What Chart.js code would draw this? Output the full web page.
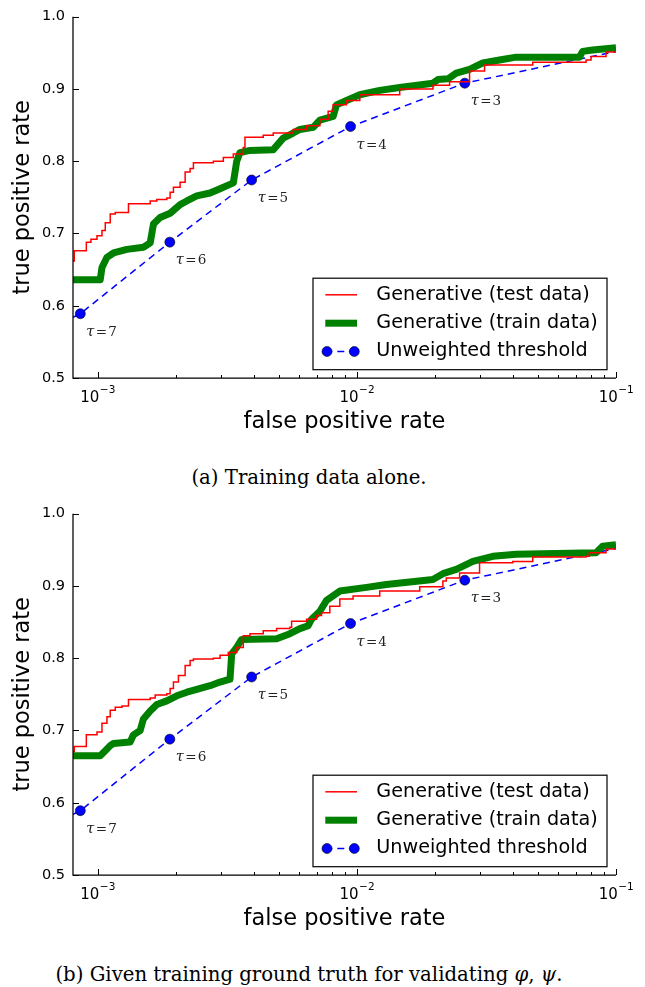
<!DOCTYPE html>
<html>
<head>
<meta charset="utf-8">
<script src="https://cdn.jsdelivr.net/npm/chart.js@4.4.1/dist/chart.umd.min.js"></script>
<style>
  html, body { margin: 0; padding: 0; background: #fff; }
  body { width: 645px; height: 987px; position: relative; overflow: hidden; }
  .panel { position: absolute; left: 0; width: 645px; height: 440px; }
  .caption { position: absolute; left: 0; width: 618px; text-align: center; font-family: "DejaVu Serif", serif; font-size: 19.7px; line-height: 1; color: #000; white-space: nowrap; }
</style>
</head>
<body>
<div class="panel" style="top:0px"><canvas id="chartA" width="645" height="440"></canvas></div>
<div class="caption" style="top:468px">(a) Training data alone.</div>
<div class="panel" style="top:497px"><canvas id="chartB" width="645" height="440"></canvas></div>
<div class="caption" style="top:965px">(b) Given training ground truth for validating <i>φ</i>, <i>ψ</i>.</div>

<script>
// axis ranges and ticks
const fprLimits = [8.04e-4, 0.1];
const tprLimits = [0.5, 1.0];
const tprTicks = [0.5, 0.6, 0.7, 0.8, 0.9, 1.0];
const fprMajorTicks = [1e-3, 1e-2, 1e-1];
const fprMinorTicks = [2e-3, 3e-3, 4e-3, 5e-3, 6e-3, 7e-3, 8e-3, 9e-3,
                       2e-2, 3e-2, 4e-2, 5e-2, 6e-2, 7e-2, 8e-2, 9e-2];

const seriesLabels = ['Generative (test data)', 'Generative (train data)', 'Unweighted threshold'];

// unweighted threshold (same in both panels); null tau = line end at the axis edge
const thresholdFpr = [8.04e-4, 8.58e-4, 1.90e-3, 3.93e-3, 9.46e-3, 2.61e-2, 0.1];
const thresholdTpr = [0.584, 0.589, 0.688, 0.774, 0.848, 0.908, 0.952];
const thresholdTau = [null, 7, 6, 5, 4, 3, null];

// (a) training data alone
const testFprA = [8.04e-4, 8.13e-4, 9.05e-4, 9.43e-4, 9.95e-4, 1.040e-3, 1.071e-3, 1.119e-3, 1.170e-3, 1.316e-3,
  1.596e-3, 1.693e-3, 1.850e-3, 1.905e-3, 1.962e-3, 2.082e-3, 2.177e-3, 2.275e-3, 2.343e-3, 2.797e-3,
  3.056e-3, 3.340e-3, 3.649e-3, 3.704e-3, 4.356e-3, 4.762e-3, 5.684e-3, 6.401e-3, 7.204e-3, 7.755e-3,
  8.104e-3, 9.127e-3, 1.027e-2, 1.464e-2, 1.967e-2, 2.281e-2, 2.723e-2, 3.111e-2, 4.773e-2, 7.665e-2,
  8.012e-2, 9.153e-2, 0.1];
const testTprA = [0.662, 0.676, 0.688, 0.692, 0.697, 0.704, 0.715, 0.727, 0.729, 0.741,
  0.745, 0.747, 0.749, 0.757, 0.764, 0.771, 0.785, 0.790, 0.798, 0.800,
  0.805, 0.810, 0.819, 0.833, 0.836, 0.839, 0.844, 0.849, 0.858, 0.869,
  0.878, 0.884, 0.892, 0.900, 0.905, 0.910, 0.925, 0.933, 0.937, 0.940,
  0.945, 0.951, 0.954];
const trainFprA = [8.04e-4, 1.024e-3, 1.040e-3, 1.087e-3, 1.152e-3, 1.298e-3, 1.503e-3, 1.596e-3, 1.643e-3, 1.743e-3,
  1.905e-3, 2.082e-3, 2.210e-3, 2.414e-3, 2.716e-3, 2.968e-3, 3.340e-3, 3.442e-3, 3.543e-3, 3.873e-3,
  4.762e-3, 5.203e-3, 5.684e-3, 6.032e-3, 6.788e-3, 7.204e-3, 8.104e-3, 8.352e-3, 9.127e-3, 1.027e-2,
  1.226e-2, 1.464e-2, 1.967e-2, 2.056e-2, 2.247e-2, 2.420e-2, 2.723e-2, 3.064e-2, 3.553e-2, 4.120e-2,
  7.222e-2, 7.437e-2, 8.127e-2, 0.1];
const trainTprA = [0.636, 0.636, 0.653, 0.667, 0.673, 0.678, 0.681, 0.687, 0.713, 0.722,
  0.728, 0.740, 0.745, 0.752, 0.756, 0.762, 0.770, 0.800, 0.812, 0.815,
  0.816, 0.832, 0.839, 0.844, 0.847, 0.857, 0.862, 0.878, 0.884, 0.892,
  0.898, 0.902, 0.908, 0.913, 0.914, 0.922, 0.927, 0.936, 0.940, 0.944,
  0.944, 0.952, 0.954, 0.957];

// (b) given training ground truth
const testFprB = [8.04e-4, 8.13e-4, 9.05e-4, 9.95e-4, 1.040e-3, 1.087e-3, 1.119e-3, 1.170e-3, 1.242e-3, 1.316e-3,
  1.596e-3, 1.668e-3, 1.850e-3, 1.905e-3, 1.962e-3, 2.051e-3, 2.177e-3, 2.275e-3, 2.343e-3, 2.797e-3,
  2.968e-3, 3.194e-3, 3.442e-3, 3.649e-3, 3.873e-3, 4.356e-3, 4.907e-3, 5.521e-3, 5.605e-3, 6.401e-3,
  6.995e-3, 7.312e-3, 7.870e-3, 8.603e-3, 9.678e-3, 1.226e-2, 1.749e-2, 2.149e-2, 2.215e-2, 2.492e-2,
  2.976e-2, 3.998e-2, 4.773e-2, 7.665e-2, 7.892e-2, 9.153e-2, 0.1];
const testTprB = [0.671, 0.678, 0.694, 0.698, 0.710, 0.719, 0.728, 0.732, 0.734, 0.743,
  0.745, 0.749, 0.751, 0.758, 0.767, 0.776, 0.790, 0.797, 0.799, 0.800,
  0.804, 0.808, 0.815, 0.831, 0.834, 0.838, 0.841, 0.843, 0.851, 0.854,
  0.859, 0.863, 0.872, 0.882, 0.886, 0.893, 0.899, 0.907, 0.911, 0.918,
  0.932, 0.934, 0.940, 0.941, 0.946, 0.951, 0.955];
const trainFprB = [8.04e-4, 1.024e-3, 1.071e-3, 1.119e-3, 1.152e-3, 1.336e-3, 1.376e-3, 1.460e-3, 1.503e-3, 1.596e-3,
  1.693e-3, 1.850e-3, 2.022e-3, 2.210e-3, 2.414e-3, 2.716e-3, 2.968e-3, 3.243e-3, 3.292e-3, 3.442e-3,
  3.597e-3, 4.907e-3, 5.521e-3, 6.032e-3, 6.494e-3, 6.693e-3, 7.204e-3, 7.643e-3, 8.603e-3, 1.090e-2,
  1.301e-2, 1.967e-2, 2.149e-2, 2.420e-2, 2.804e-2, 3.348e-2, 4.120e-2, 8.375e-2, 8.879e-2, 0.1];
const trainTprB = [0.665, 0.665, 0.672, 0.679, 0.682, 0.684, 0.694, 0.700, 0.716, 0.727,
  0.736, 0.741, 0.748, 0.753, 0.757, 0.762, 0.767, 0.771, 0.806, 0.815,
  0.826, 0.827, 0.834, 0.841, 0.845, 0.854, 0.865, 0.880, 0.893, 0.898,
  0.902, 0.909, 0.917, 0.923, 0.934, 0.941, 0.944, 0.946, 0.955, 0.957];

function toPoints(xs, ys) {
  return xs.map((v, i) => ({ x: v, y: ys[i] }));
}

// matplotlib-style spines, inward ticks and 10^n tick labels
const axesPlugin = {
  id: 'mplAxes',
  afterDatasetsDraw(chart) {
    const { ctx, chartArea: a, scales: { x, y } } = chart;
    ctx.save();
    ctx.strokeStyle = '#000';
    ctx.lineWidth = 1.25;
    ctx.beginPath();
    ctx.moveTo(a.left, a.top);
    ctx.lineTo(a.left, a.bottom);
    ctx.lineTo(a.right, a.bottom);
    ctx.stroke();

    ctx.lineWidth = 1;
    ctx.beginPath();
    tprTicks.forEach(v => {
      const py = Math.round(y.getPixelForValue(v)) + 0.5;
      ctx.moveTo(a.left, py);
      ctx.lineTo(a.left + 6, py);
    });
    fprMajorTicks.forEach(v => {
      const px = Math.round(x.getPixelForValue(v)) + 0.5;
      ctx.moveTo(px, a.bottom);
      ctx.lineTo(px, a.bottom - 6);
    });
    fprMinorTicks.forEach(v => {
      const px = Math.round(x.getPixelForValue(v)) + 0.5;
      ctx.moveTo(px, a.bottom);
      ctx.lineTo(px, a.bottom - 3);
    });
    ctx.stroke();

    // x tick labels as 10 with a raised exponent
    ctx.fillStyle = '#000';
    ctx.textAlign = 'left';
    ctx.textBaseline = 'alphabetic';
    const base = a.bottom + 23.7;
    fprMajorTicks.forEach(v => {
      const px = x.getPixelForValue(v);
      const exp = '\u2212' + String(Math.abs(Math.round(Math.log10(v))));
      ctx.font = '15px "DejaVu Sans"';
      const w1 = ctx.measureText('10').width;
      ctx.font = '10.5px "DejaVu Sans"';
      const w2 = ctx.measureText(exp).width;
      const start = px - (w1 + w2) / 2;
      ctx.font = '15px "DejaVu Sans"';
      ctx.fillText('10', start, base);
      ctx.font = '10.5px "DejaVu Sans"';
      ctx.fillText(exp, start + w1 + 0.5, base - 9);
    });
    ctx.restore();
  }
};

// tau annotations next to the threshold markers
const tauPlugin = {
  id: 'tauLabels',
  afterDatasetsDraw(chart) {
    const ctx = chart.ctx;
    const meta = chart.getDatasetMeta(2);
    ctx.save();
    ctx.fillStyle = '#222';
    ctx.textBaseline = 'alphabetic';
    ctx.textAlign = 'left';
    meta.data.forEach((pt, i) => {
      const tau = thresholdTau[i];
      if (tau === null) return;
      let px = pt.x + 6;
      const py = pt.y + 22;
      ctx.font = 'italic 14.5px "DejaVu Serif"';
      ctx.fillText('\u03C4', px, py);
      px += ctx.measureText('\u03C4').width + 1.5;
      ctx.font = '13.5px "DejaVu Serif"';
      ctx.fillText('=', px, py);
      px += ctx.measureText('=').width + 1;
      ctx.fillText(String(tau), px, py);
    });
    ctx.restore();
  }
};

// legend box in the lower right of the axes
const legendPlugin = {
  id: 'boxLegend',
  afterDraw(chart) {
    const { ctx, chartArea: a } = chart;
    const left = a.left + 240, right = a.right - 9;
    const top = a.top + 261.5, bottom = a.top + 353;
    const rows = [16.6, 45, 73.3];
    ctx.save();
    ctx.fillStyle = '#fff';
    ctx.fillRect(left, top, right - left, bottom - top);
    ctx.strokeStyle = '#000';
    ctx.lineWidth = 1.2;
    ctx.strokeRect(left, top, right - left, bottom - top);

    chart.data.datasets.forEach((ds, i) => {
      const cy = top + rows[i];
      const x0 = left + 12.3, x1 = left + 44;
      ctx.strokeStyle = ds.borderColor;
      ctx.lineWidth = ds.borderWidth;
      ctx.setLineDash(ds.borderDash || []);
      ctx.beginPath();
      ctx.moveTo(x0, cy);
      ctx.lineTo(x1, cy);
      ctx.stroke();
      ctx.setLineDash([]);
      if (i === 2) {
        [x0 + 1.7, x1 - 2.7].forEach(mx => {
          ctx.beginPath();
          ctx.arc(mx, cy, 5, 0, Math.PI * 2);
          ctx.fillStyle = ds.pointBackgroundColor;
          ctx.fill();
          ctx.lineWidth = ds.pointBorderWidth;
          ctx.strokeStyle = ds.pointBorderColor;
          ctx.stroke();
        });
      }
      ctx.fillStyle = '#000';
      ctx.font = '19.2px "DejaVu Sans"';
      ctx.textBaseline = 'middle';
      ctx.textAlign = 'left';
      ctx.fillText(ds.label, left + 63.3, cy);
    });
    ctx.restore();
  }
};

function makeChart(id, testFpr, testTpr, trainFpr, trainTpr) {
  return new Chart(document.getElementById(id), {
    type: 'line',
    data: {
      datasets: [
        {
          label: seriesLabels[0],
          data: toPoints(testFpr, testTpr),
          borderColor: '#ff0000',
          borderWidth: 1.5,
          stepped: 'before',
          pointRadius: 0,
          fill: false
        },
        {
          label: seriesLabels[1],
          data: toPoints(trainFpr, trainTpr),
          borderColor: '#008000',
          borderWidth: 7,
          borderJoinStyle: 'round',
          borderCapStyle: 'butt',
          pointRadius: 0,
          fill: false
        },
        {
          label: seriesLabels[2],
          data: toPoints(thresholdFpr, thresholdTpr),
          borderColor: '#0000ff',
          borderWidth: 1.5,
          borderDash: [7, 5],
          pointRadius: thresholdTau.map(t => (t === null ? 0 : 5)),
          pointBackgroundColor: '#0000ff',
          pointBorderColor: '#000',
          pointBorderWidth: 0.6,
          fill: false
        }
      ]
    },
    options: {
      responsive: false,
      animation: false,
      events: [],
      layout: { padding: { top: 15, right: 29, left: 0, bottom: 0 } },
      plugins: { legend: { display: false }, tooltip: { enabled: false } },
      scales: {
        x: {
          type: 'logarithmic',
          min: fprLimits[0],
          max: fprLimits[1],
          grid: { display: false, drawTicks: false },
          border: { display: false },
          afterBuildTicks: s => { s.ticks = fprMajorTicks.map(v => ({ value: v })); },
          afterFit: s => { s.height = 62; },
          ticks: { display: false },
          title: {
            display: true,
            text: 'false positive rate',
            color: '#000',
            font: { family: 'DejaVu Sans', size: 22.5, lineHeight: 1 },
            padding: { top: 0, bottom: 7 }
          }
        },
        y: {
          min: tprLimits[0],
          max: tprLimits[1],
          grid: { display: false, drawTicks: false },
          border: { display: false },
          afterBuildTicks: s => { s.ticks = tprTicks.map(v => ({ value: v })); },
          afterFit: s => { s.width = 73; },
          ticks: {
            padding: 8,
            color: '#000',
            font: { family: 'DejaVu Sans', size: 14.5 },
            callback: v => v.toFixed(1)
          },
          title: {
            display: true,
            text: 'true positive rate',
            color: '#000',
            font: { family: 'DejaVu Sans', size: 22.5, lineHeight: 1 },
            padding: { top: 12, bottom: 0 }
          }
        }
      }
    },
    plugins: [axesPlugin, tauPlugin, legendPlugin]
  });
}

makeChart('chartA', testFprA, testTprA, trainFprA, trainTprA);
makeChart('chartB', testFprB, testTprB, trainFprB, trainTprB);
</script>
</body>
</html>
